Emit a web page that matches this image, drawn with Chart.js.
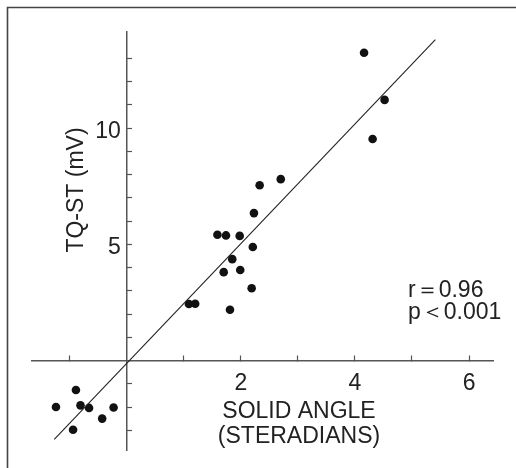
<!DOCTYPE html>
<html>
<head>
<meta charset="utf-8">
<script src="https://cdn.jsdelivr.net/npm/chart.js@4"></script>
<style>
  html, body { margin: 0; padding: 0; background: #fff; }
  #wrap { position: relative; width: 516px; height: 468px; }
</style>
</head>
<body>
<div id="wrap"><canvas id="scatterChart" width="516" height="468"></canvas></div>
<script>
// data
const solidAngle = [4.16, 4.52, 4.31, 2.70, 2.33, 2.23, 1.59, 1.74, 1.98, 2.21, 1.85, 1.70, 1.99, 2.19, 1.09, 1.20, 1.81,
    -0.89, -1.24, -0.81, -0.66, -0.23, -0.43, -0.94];
const tqst = [13.25, 11.22, 9.54, 7.81, 7.55, 6.35, 5.42, 5.39, 5.37, 4.89, 4.37, 3.81, 3.90, 3.12, 2.44, 2.45, 2.19,
    -1.26, -1.99, -1.92, -2.03, -2.01, -2.49, -2.97];
const fitX = [-1.27, 5.41];
const fitY = [-3.38, 13.81];
const xTicks = [-1, 1, 2, 3, 4, 5, 6];
const xLabels = [2, 4, 6];
const yTicks = [-3, -2, -1, 1, 2, 3, 4, 5, 6, 7, 8, 9, 10, 11, 12, 13];
const yLabels = [5, 10];
const statsText = ['r\uFF1D0.96', 'p\uFF1C0.001'];

const ink = '#222';
const font = '"Liberation Sans", Arial, sans-serif';

const framePlugin = {
    id: 'frame',
    beforeDraw(chart) {
        const c = chart.ctx;
        c.save();
        c.strokeStyle = '#444';
        c.lineWidth = 1.6;
        c.beginPath();
        c.moveTo(7.5, 468);
        c.lineTo(7.5, 7.5);
        c.lineTo(516, 7.5);
        c.stroke();
        c.restore();
    }
};

// y labels sit left of the crossing axis, titles and stats text
const textPlugin = {
    id: 'texts',
    afterDraw(chart) {
        const c = chart.ctx;
        const xs = chart.scales.x, ys = chart.scales.y;
        c.save();
        c.fillStyle = ink;
        c.font = '23px ' + font;
        c.textBaseline = 'middle';
        c.textAlign = 'right';
        yLabels.forEach(v => c.fillText(String(v), xs.getPixelForValue(0) - 6, ys.getPixelForValue(v) + 3));
        c.textAlign = 'center';
        c.fillText('SOLID ANGLE', 299, 412);
        c.fillText('(STERADIANS)', 299, 437);
        c.textAlign = 'left';
        c.fillText(statsText[0], 408, 291);
        c.fillText(statsText[1], 408, 313);
        c.translate(77, 190);
        c.rotate(-Math.PI / 2);
        c.textAlign = 'center';
        c.fillText('TQ-ST (mV)', 0, 0);
        c.restore();
    }
};

const ctx = document.getElementById('scatterChart').getContext('2d');
new Chart(ctx, {
    type: 'scatter',
    data: {
        datasets: [{
            label: 'fit',
            type: 'line',
            data: fitX.map((x, i) => ({x: x, y: fitY[i]})),
            borderColor: ink,
            borderWidth: 1.1,
            pointRadius: 0,
            fill: false
        }, {
            label: 'hearts',
            data: solidAngle.map((x, i) => ({x: x, y: tqst[i]})),
            backgroundColor: '#111',
            borderColor: '#111',
            borderWidth: 0,
            pointRadius: 4.3
        }]
    },
    options: {
        responsive: false,
        animation: false,
        layout: { padding: { left: 32, right: 23, top: 32, bottom: 18 } },
        plugins: {
            legend: { display: false },
            tooltip: { enabled: false }
        },
        scales: {
            x: {
                type: 'linear',
                min: -1.66,
                max: 6.42,
                position: { y: 0 },
                afterBuildTicks: (scale) => { scale.ticks = xTicks.map(v => ({value: v})); },
                border: { color: '#555', width: 1.5 },
                grid: { drawOnChartArea: false, drawTicks: true, tickLength: -6, tickColor: '#555', tickWidth: 1.2 },
                ticks: {
                    autoSkip: false,
                    color: ink,
                    font: { family: font, size: 23 },
                    padding: 15,
                    maxRotation: 0,
                    callback: (v) => xLabels.includes(v) ? String(v) : ''
                }
            },
            y: {
                type: 'linear',
                min: -3.84,
                max: 14.14,
                position: { x: 0 },
                afterBuildTicks: (scale) => { scale.ticks = yTicks.map(v => ({value: v})); },
                border: { color: '#555', width: 1.5 },
                grid: { drawOnChartArea: false, drawTicks: true, tickLength: -6, tickColor: '#555', tickWidth: 1.2 },
                ticks: {
                    autoSkip: false,
                    callback: () => ''
                }
            }
        }
    },
    plugins: [framePlugin, textPlugin]
});
</script>
</body>
</html>
